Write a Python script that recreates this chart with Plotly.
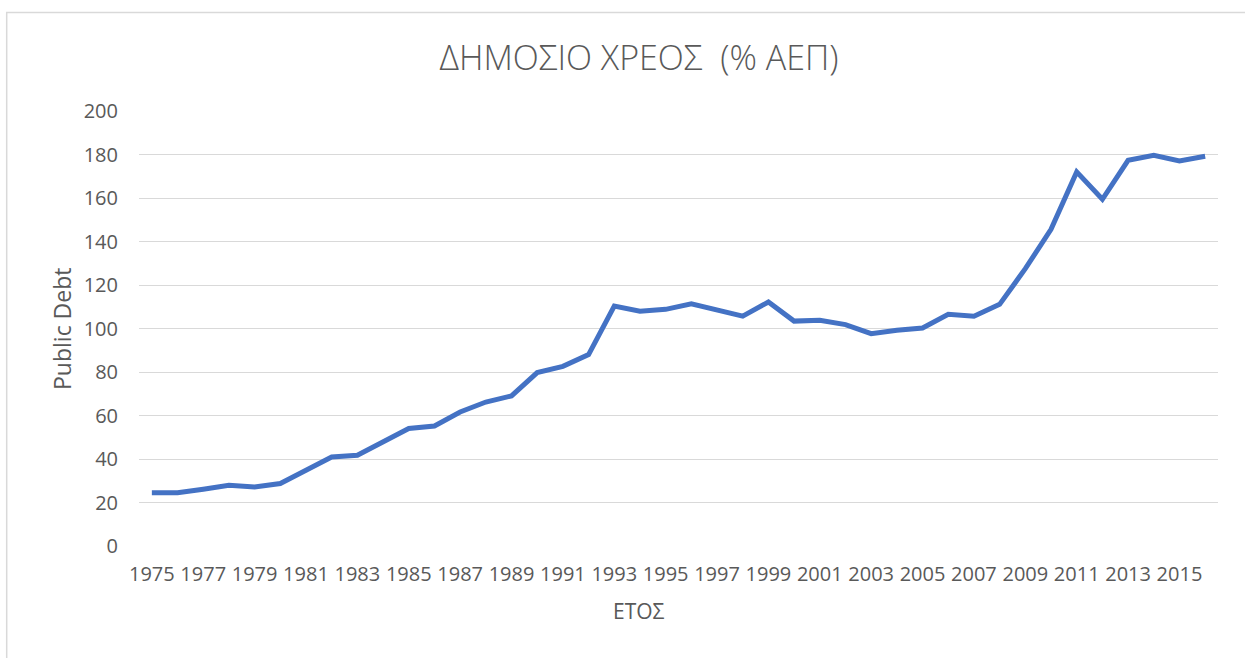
import plotly.graph_objects as go

years = list(range(1975, 2017))
debt = [24.5, 24.5, 26.1, 27.9, 27.1, 28.7, 34.8, 40.9, 41.7, 47.8,
        54.0, 55.2, 61.6, 66.2, 69.0, 79.7, 82.6, 88.0, 110.3, 107.9,
        108.8, 111.4, 108.4, 105.7, 112.2, 103.4, 103.8, 101.8, 97.6, 99.2,
        100.2, 106.5, 105.6, 111.1, 127.5, 145.6, 172.0, 159.4, 177.3, 179.6,
        177.0, 179.2]
x_ticks = list(range(1975, 2016, 2))
y_ticks = list(range(0, 201, 20))

W, H = 1245, 658
ML, MR, MT, MB = 139, 27, 111, 112
PW, PH = W - ML - MR, H - MT - MB

def px(x):
    return (x - ML) / PW

def py(y):
    return (H - MB - y) / PH

TXT = "#595959"
FONT = "Open Sans"

fig = go.Figure()
fig.add_trace(go.Scatter(x=years, y=debt, mode="lines",
                         line=dict(color="#4472C4", width=5),
                         hoverinfo="x+y", showlegend=False))

fig.update_layout(
    width=W, height=H,
    margin=dict(l=ML, r=MR, t=MT, b=MB, pad=0),
    paper_bgcolor="white", plot_bgcolor="white",
    font=dict(family=FONT, color=TXT, size=20),
    title=dict(text="ΔΗΜΟΣΙΟ ΧΡΕΟΣ  (% ΑΕΠ)", xref="container", yref="container",
               x=639 / W, y=1 - 58 / H, xanchor="center", yanchor="middle",
               font=dict(family=FONT, size=34, color=TXT, weight=300)),
    xaxis=dict(range=[1974.5, 2016.5], tickvals=x_ticks, ticktext=[str(v) for v in x_ticks],
               showgrid=False, zeroline=False, showline=False, ticks="",
               tickfont=dict(size=20, color=TXT), ticklabelstandoff=14),
    yaxis=dict(range=[0, 200], tickvals=y_ticks, showgrid=True, gridcolor="#D9D9D9",
               gridwidth=1.3, zeroline=False, showline=False, ticks="",
               tickfont=dict(size=20, color=TXT), ticklabelstandoff=20),
    annotations=[
        dict(text="ΕΤΟΣ", xref="paper", yref="paper", x=px(639), y=py(611),
             xanchor="center", yanchor="middle", showarrow=False,
             font=dict(size=21, color=TXT, family=FONT)),
        dict(text="Public Debt", xref="paper", yref="paper", x=px(62), y=py(329),
             xanchor="center", yanchor="middle", showarrow=False, textangle=-90,
             font=dict(size=23, color=TXT, family=FONT)),
    ],
    shapes=[
        dict(type="path", xref="paper", yref="paper",
             path=f"M {px(6.7)},{py(H + 5)} L {px(6.7)},{py(12.5)} L {px(W + 5)},{py(12.5)}",
             line=dict(color="#D9D9D9", width=1.5)),
    ],
)

fig.write_html("out.html", config={"displayModeBar": False},
               post_script="document.body.style.margin='0';document.body.style.padding='0';")
